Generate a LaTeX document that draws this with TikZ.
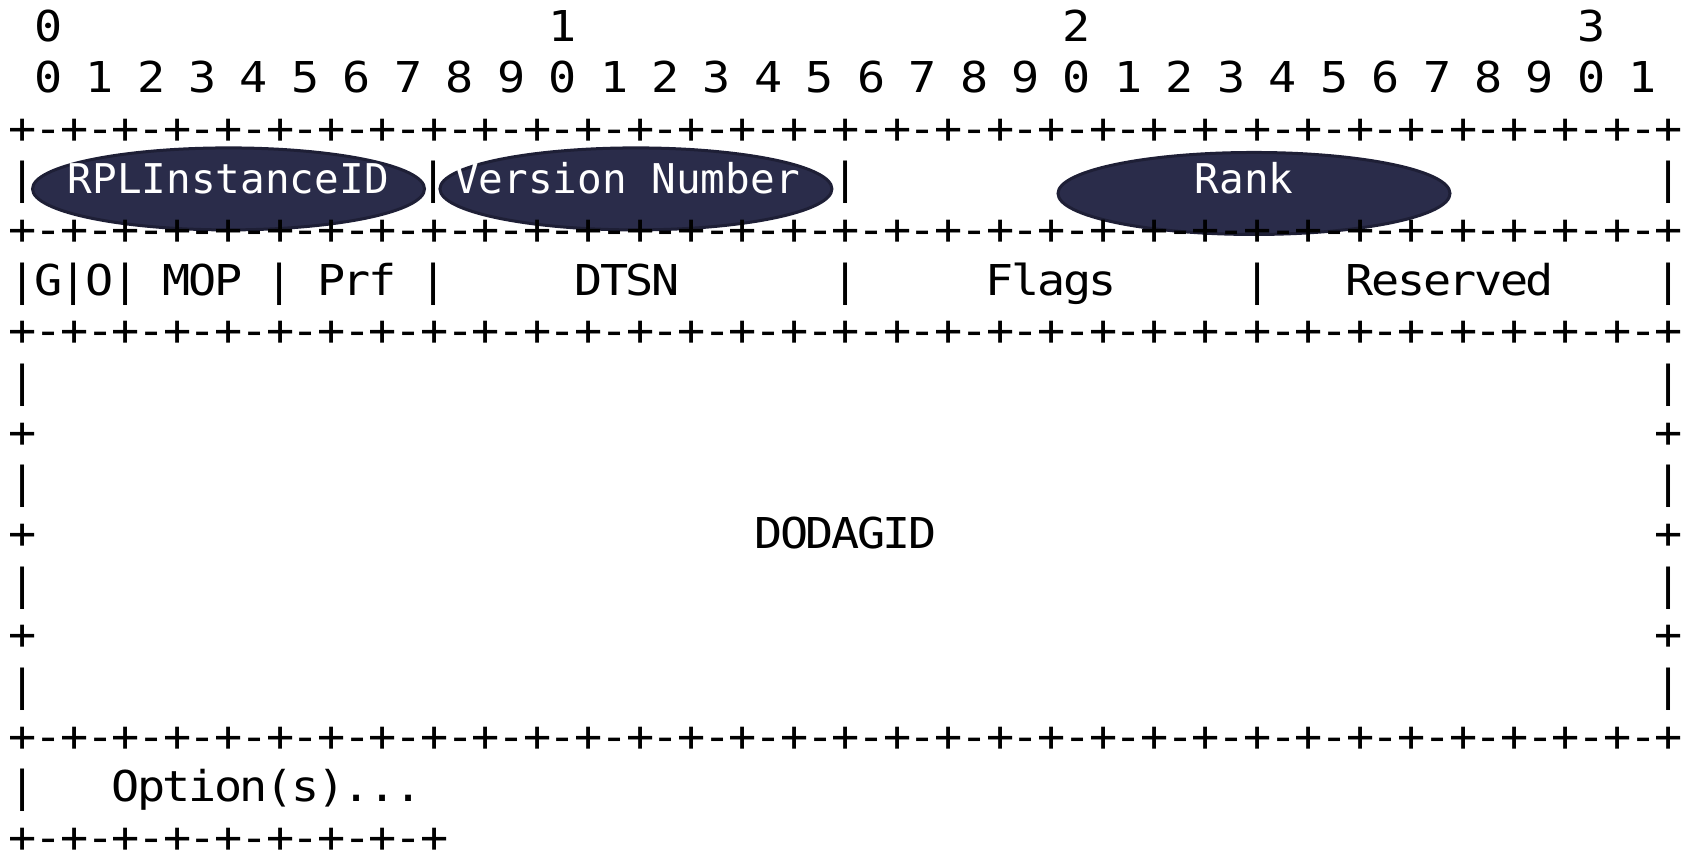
\documentclass[tikz,border=0pt]{standalone}
\usepackage{fontspec}
\usetikzlibrary{shapes.geometric}
\newfontfamily\asciifont[FakeStretch=1.1]{DejaVu Sans Mono}
\newfontfamily\fieldfont{DejaVu Sans Mono}
\definecolor{ovalfill}{HTML}{2A2C4A}
\definecolor{ovalline}{HTML}{1E1F36}
% one fixed-width cell per character
\ExplSyntaxOn
\NewDocumentCommand \cells { m } { \tl_map_inline:nn {#1} { \makebox[12.86pt]{##1} } }
\ExplSyntaxOff
\newcommand\ruleline{+-+-+-+-+-+-+-+-+-+-+-+-+-+-+-+-+-+-+-+-+-+-+-+-+-+-+-+-+-+-+-+-+}
\begin{document}
\begin{tikzpicture}[x=12.86pt, y=-25.33pt,
  asc/.style={font=\asciifont\fontsize{21.25pt}{25pt}\selectfont, inner sep=0pt, anchor=base},
  oval/.style={ellipse, draw=ovalline, line width=1.5pt, fill=ovalfill, inner sep=0pt,
    minimum width=196pt, minimum height=41pt},
  fld/.style={font=\fieldfont\fontsize{20.5pt}{24pt}\selectfont, text=white, inner sep=0pt, anchor=base}]
  \useasboundingbox (-0.875,-0.829) rectangle (64.91,15.99);
  % highlighted fields
  \node[oval] (o1) at (8.01,2.90) {};
  \node[oval] (o2) at (23.85,2.90) {};
  \node[oval] (o3) at (47.88,2.99) {};
  % bit numbering
  \foreach \d in {0,1,2,3}
    \node[asc] (ten\d) at ({1+20*\d},0) {\d};
  \foreach \b in {0,...,31} {
    \pgfmathtruncatemacro\u{mod(\b,10)}
    \node[asc] (bit\b) at ({2*\b+1},1) {\u};
  }
  % rule lines
  \foreach \r in {2,4,6,14}
    \node[asc, anchor=base west] (rule\r) at (-0.5,\r) {\expandafter\cells\expandafter{\ruleline}};
  \node[asc, anchor=base west] (rule16) at (-0.5,16) {\cells{+-+-+-+-+-+-+-+-+}};
  % first word
  \foreach \c in {0,16,32,64}
    \node[asc] (bara\c) at (\c,3) {|};
  % second word
  \foreach \c in {0,2,4,10,16,32,48,64}
    \node[asc] (barb\c) at (\c,5) {|};
  \node[asc] (g)     at (1,5)    {G};
  \node[asc] (o)     at (3,5)    {O};
  \node[asc] (mop)   at (7,5)    {\cells{MOP}};
  \node[asc] (prf)   at (13,5)   {\cells{Prf}};
  \node[asc] (dtsn)  at (23.5,5) {\cells{DTSN}};
  \node[asc] (flags) at (40,5)   {\cells{Flags}};
  \node[asc] (resv)  at (55.5,5) {\cells{Reserved}};
  % DODAGID block
  \foreach \r in {7,9,11,13} {
    \node[asc] (lbar\r) at (0,\r)  {|};
    \node[asc] (rbar\r) at (64,\r) {|};
  }
  \foreach \r in {8,10,12} {
    \node[asc] (lplus\r) at (0,\r)  {+};
    \node[asc] (rplus\r) at (64,\r) {+};
  }
  \node[asc] (dodag) at (32,10) {\cells{DODAGID}};
  % options
  \node[asc] (barc0) at (0,15) {|};
  \node[asc] (opts)  at (9.5,15) {\cells{Option(s)...}};
  % labels on the ovals
  \node[fld] (inst) at (8,3)    {RPLInstanceID};
  \node[fld] (vers) at (23.5,3) {Version Number};
  \node[fld] (rank) at (47.5,3) {Rank};
\end{tikzpicture}
\end{document}
